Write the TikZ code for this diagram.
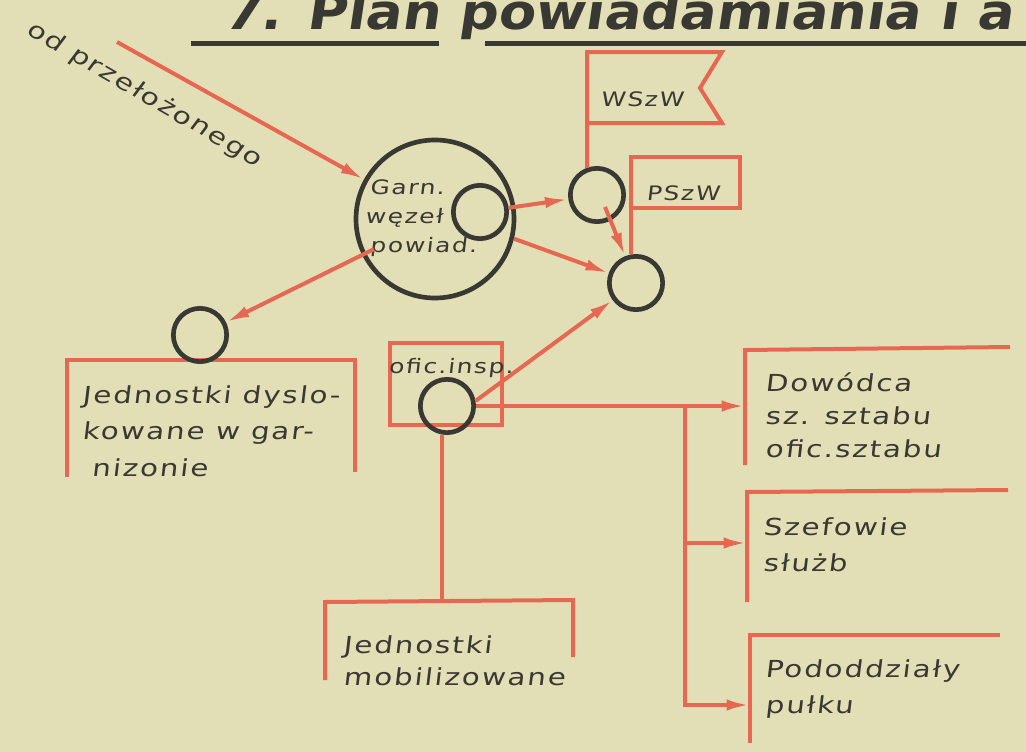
\documentclass[tikz,border=0pt]{standalone}
\usepackage{fontspec}
\usepackage{tikz}
\usetikzlibrary{arrows.meta,positioning,calc}
\newfontfamily\hand[FakeStretch=1.25,FakeSlant=0.12,LetterSpace=8]{DejaVu Sans}
\newfontfamily\headfont[FakeStretch=1.1,FakeSlant=0.15]{DejaVu Sans}
\definecolor{paper}{RGB}{226,223,182}
\definecolor{redink}{RGB}{230,104,82}
\definecolor{ink}{RGB}{58,56,50}
\tikzset{
    ring/.style={circle, draw=ink, line width=1.4mm, minimum size=1.6cm, inner sep=0pt},
    bigring/.style={ring, minimum size=4.74cm},
    line/.style={draw=redink, line width=1.2mm, -{Latex[length=7mm,width=3.4mm]}},
    redline/.style={draw=redink, line width=1.2mm},
    txt/.style={font=\hand\fontsize{20}{31}\selectfont, text=ink, align=left, anchor=west, inner sep=0pt},
    smalltxt/.style={txt, font=\hand\fontsize{17}{25}\selectfont},
    heading/.style={font=\headfont\bfseries\fontsize{42}{42}\selectfont, text=ink, inner sep=0pt}
}
\begin{document}
\begin{tikzpicture}[x=0.03cm, y=-0.03cm]
    \fill[paper] (0,0) rectangle (1026,752);
    \useasboundingbox (0,0) rectangle (1026,752);

    % Title
    \node[heading, anchor=base west] (title) at (223,29) {7. Plan powiadamiania i a};
    \draw[ink, line width=1.5mm] (191,43) -- (439,43);
    \draw[ink, line width=1.5mm] (485,43) -- (1026,43);

    % Brackets and boxes
    \draw[redline] (67,477) -- (67,360) -- (355,360) -- (355,472);
    \draw[redline] (390,343) rectangle (502,425);
    \draw[redline] (325,680) -- (325,602) -- (573,600) -- (573,657);
    \draw[redline] (745,465) -- (745,350) -- (1010,347);
    \draw[redline] (747,602) -- (747,492) -- (1008,490);
    \draw[redline] (750,743) -- (750,635) -- (1000,635);
    \coordinate (dowin) at (745,350);
    \coordinate (szein) at (747,543);
    \coordinate (podin) at (750,705);
    \coordinate (mobtop) at (440,601);

    % Circles
    \node[bigring] (garn) at (435,219) {};
    \node[ring] (inner) at (480,212) {};
    \node[ring] (wszw) at (597,195) {};
    \node[ring] (pszw) at (636,283) {};
    \node[ring] (jdc) at (200,335) {};
    \node[ring] (ofic) at (447,406) {};

    % Flags
    \coordinate (wpole) at (588,52);
    \coordinate (ppole) at (632,157);
    \draw[redline] (wszw.110) -- (wszw.110 |- wpole) -- (722,52) -- (700,88) -- (722,123) -- (wszw.110 |- 0,123);
    \draw[redline] (pszw.99) -- (pszw.99 |- ppole) -- (740,157) -- (740,208) -- (pszw.99 |- 0,208);

    % Texts
    \node[txt, anchor=center, rotate=-30] (from) at (144,95) {od przełożonego};
    \node[smalltxt] (garntxt) at (365,218) {\hspace{4pt}Garn.\\węzeł\\\hspace{4pt}powiad.};
    \node[smalltxt, anchor=center] (wszwtxt) at (642,99) {WSzW};
    \node[smalltxt, anchor=center] (pszwtxt) at (683,193) {PSzW};
    \node[smalltxt, anchor=center] (ofictxt) at (451,368) {ofic.insp.};
    \node[txt] (dystxt) at (82,431) {Jednostki dyslo-\\kowane w gar-\\\hspace{8pt}nizonie};
    \node[txt, font=\hand\fontsize{20}{27}\selectfont] (mobtxt) at (343,661) {Jednostki\\mobilizowane};
    \node[txt, font=\hand\fontsize{20}{28}\selectfont] (dowtxt) at (765,415) {Dowódca\\sz. sztabu\\ofic.sztabu};
    \node[txt] (szetxt) at (763,545) {Szefowie\\służb};
    \node[txt] (podtxt) at (765,689) {Pododdziały\\pułku};

    % Message flow
    \coordinate (src) at (117,42);
    \draw[line] (src) -- (garn);
    \draw[line] ($(garn)!0.26!(jdc)$) -- (jdc);
    \draw[line] (inner) -- (wszw);
    \draw[line] (garn.-14) -- (pszw);
    \draw[line] ($(wszw)+(8,12)$) -- (pszw);
    \draw[line] (ofic.10) -- (pszw);

    % Branches from ofic.insp.
    \coordinate (fork) at (685,406);
    \draw[line] (ofic.east) -- (dowin |- ofic.east);
    \draw[line] (fork) |- (szein);
    \draw[line] (fork) |- (podin);
    \draw[redline] (ofic.-100) -- (ofic.-100 |- mobtop);
\end{tikzpicture}
\end{document}
